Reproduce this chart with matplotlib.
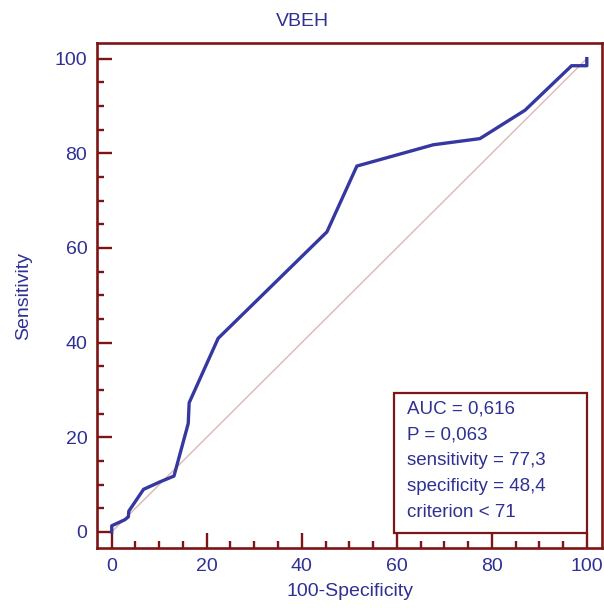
import matplotlib.pyplot as plt
from matplotlib.patches import Rectangle
from matplotlib.ticker import MultipleLocator

plt.rcParams['font.family'] = ['Liberation Sans', 'DejaVu Sans']

# ROC curve for VBEH
fpr = [0, 0, 2.8, 3.5, 3.6, 6.7, 10.2, 13.1, 16.1, 16.3, 22.4, 45.3, 51.6, 67.7, 77.5, 87.0, 96.8, 100, 100]
tpr = [0, 1.3, 2.6, 3.2, 4.4, 9.0, 10.6, 11.8, 22.9, 27.3, 40.9, 63.4, 77.3, 81.8, 83.1, 89.1, 98.5, 98.5, 100]

stats = ["AUC = 0,616", "P = 0,063", "sensitivity = 77,3", "specificity = 48,4", "criterion < 71"]

frame_col = "#7d1416"
text_col = "#2e3192"
line_col = "#3438a0"

fig = plt.figure(figsize=(6.04, 6.10), dpi=100)
ax = fig.add_axes([0.1606, 0.1016, 0.8361, 0.8279])

ax.plot([0, 100], [0, 100], color="#d9b9b3", lw=1.0, zorder=1)
ax.plot(fpr, tpr, color=line_col, lw=2.4, solid_joinstyle="round", zorder=3)

ax.set_xlim(-3.1, 103.2)
ax.set_ylim(-3.4, 103.3)

for s in ax.spines.values():
    s.set_color(frame_col)
    s.set_linewidth(1.9)

ax.xaxis.set_major_locator(MultipleLocator(20))
ax.xaxis.set_minor_locator(MultipleLocator(5))
ax.yaxis.set_major_locator(MultipleLocator(20))
ax.yaxis.set_minor_locator(MultipleLocator(5))
ax.tick_params(which="both", direction="in", color=frame_col, width=1.7,
               top=False, right=False)
ax.tick_params(which="major", length=10.5, labelsize=14, labelcolor=text_col, pad=7)
ax.tick_params(which="minor", length=5)
ax.set_xticks([0, 20, 40, 60, 80, 100])

ax.set_xlabel("100-Specificity", fontsize=14, color=text_col, labelpad=6)
ax.set_ylabel("Sensitivity", fontsize=14, color=text_col, labelpad=16)
fig.text(0.5, 0.964, "VBEH", ha="center", va="center", fontsize=14, color=text_col)

# statistics box in the lower right corner
ax.add_patch(Rectangle((59.4, -0.2), 40.6, 29.5, fill=True, facecolor="white",
                       edgecolor=frame_col, lw=1.6, zorder=4))
for i, s in enumerate(stats):
    ax.text(62.2, 25.9 - i * 5.45, s, fontsize=13.5, color=text_col,
            ha="left", va="center", zorder=5)

fig.savefig("out.png", dpi=100)
